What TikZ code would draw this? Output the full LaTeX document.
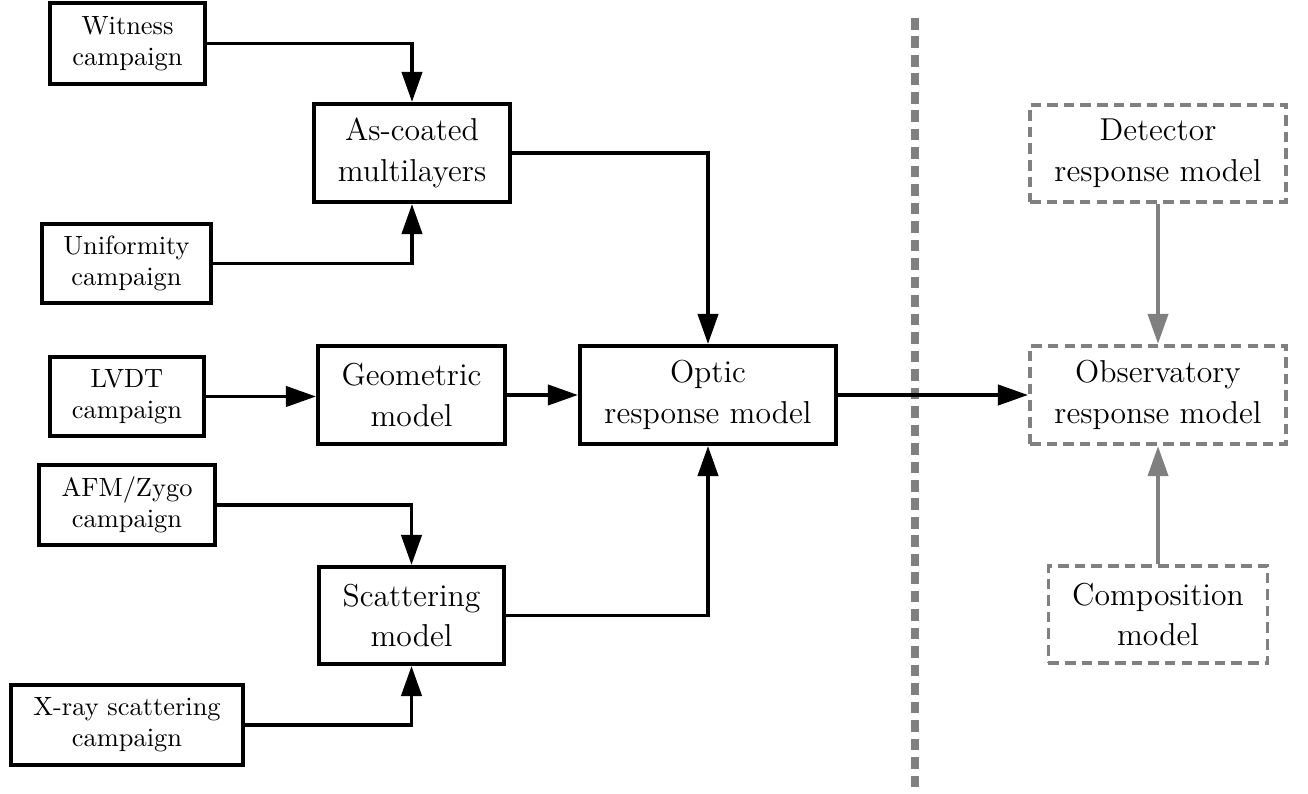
\documentclass[tikz,border=0pt]{standalone}
\usetikzlibrary{arrows.meta}
\begin{document}
\begin{tikzpicture}[x=0.3788pt, y=-0.3788pt,
  smallbox/.style={draw, line width=1.5pt, align=center, inner sep=0pt,
    font=\fontsize{10}{11.6}\selectfont},
  mainbox/.style={draw, line width=1.5pt, align=center, inner sep=0pt,
    font=\fontsize{12}{15.5}\selectfont},
  extbox/.style={draw=gray, line width=1.45pt, dash pattern=on 4pt off 2.3pt,
    align=center, inner sep=0pt, font=\fontsize{12}{15.5}\selectfont},
  flow/.style={line width=1.5pt, -{Triangle[length=11.4pt,width=7.6pt]}},
  extflow/.style={flow, draw=gray},
  divider/.style={gray, line width=3.4pt, dash pattern=on 4.4pt off 2.6pt}]
\useasboundingbox (0,0) rectangle (1308,794);

% measurement campaigns
\node[smallbox, minimum width=58.7pt, minimum height=30.7pt] (witness) at (127.5,43.5) {Witness\\campaign};
\node[smallbox, minimum width=64pt, minimum height=30.2pt] (uniform) at (126.5,263.5) {Uniformity\\campaign};
\node[smallbox, minimum width=58.3pt, minimum height=30.2pt] (lvdt) at (127,396.5) {LVDT\\campaign};
\node[smallbox, minimum width=66.7pt, minimum height=30.3pt] (afm) at (127,505) {AFM/Zygo\\campaign};
\node[smallbox, minimum width=87.9pt, minimum height=30.3pt] (xray) at (127,725) {X-ray scattering\\campaign};

% intermediate models
\node[mainbox, minimum width=74.2pt, minimum height=37.1pt] (coated) at (412,153) {As-coated\\multilayers};
\node[mainbox, minimum width=70.8pt, minimum height=37.1pt] (geom) at (411.5,395) {Geometric\\model};
\node[mainbox, minimum width=70.1pt, minimum height=36.7pt] (scatter) at (411.5,615.5) {Scattering\\model};
\node[mainbox, minimum width=97pt, minimum height=37.1pt] (optic) at (708,395) {Optic\\response model};

% external models
\node[extbox, minimum width=97pt, minimum height=37pt] (detector) at (1158,153.5) {Detector\\response model};
\node[extbox, minimum width=97pt, minimum height=37.3pt] (observ) at (1158,395) {Observatory\\response model};
\node[extbox, minimum width=83pt, minimum height=37pt] (compos) at (1158,614.5) {Composition\\model};

% separator
\coordinate (septop) at (915,18);
\coordinate (sepbot) at (915,794);
\draw[divider] (septop) -- (sepbot);

% connectors
\draw[flow] (witness.east) -| (coated.north);
\draw[flow] (uniform.east) -| (coated.south);
\draw[flow] (lvdt.east) -- (lvdt.east -| geom.west);
\draw[flow] (geom.east) -- (optic.west);
\draw[flow] (afm.east) -| (scatter.north);
\draw[flow] (xray.east) -| (scatter.south);
\draw[flow] (coated.east) -| (optic.north);
\draw[flow] (scatter.east) -| (optic.south);
\draw[flow] (optic.east) -- (observ.west);
\draw[extflow] (detector.south) -- (observ.north);
\draw[extflow] (compos.north) -- (observ.south);
\end{tikzpicture}
\end{document}
